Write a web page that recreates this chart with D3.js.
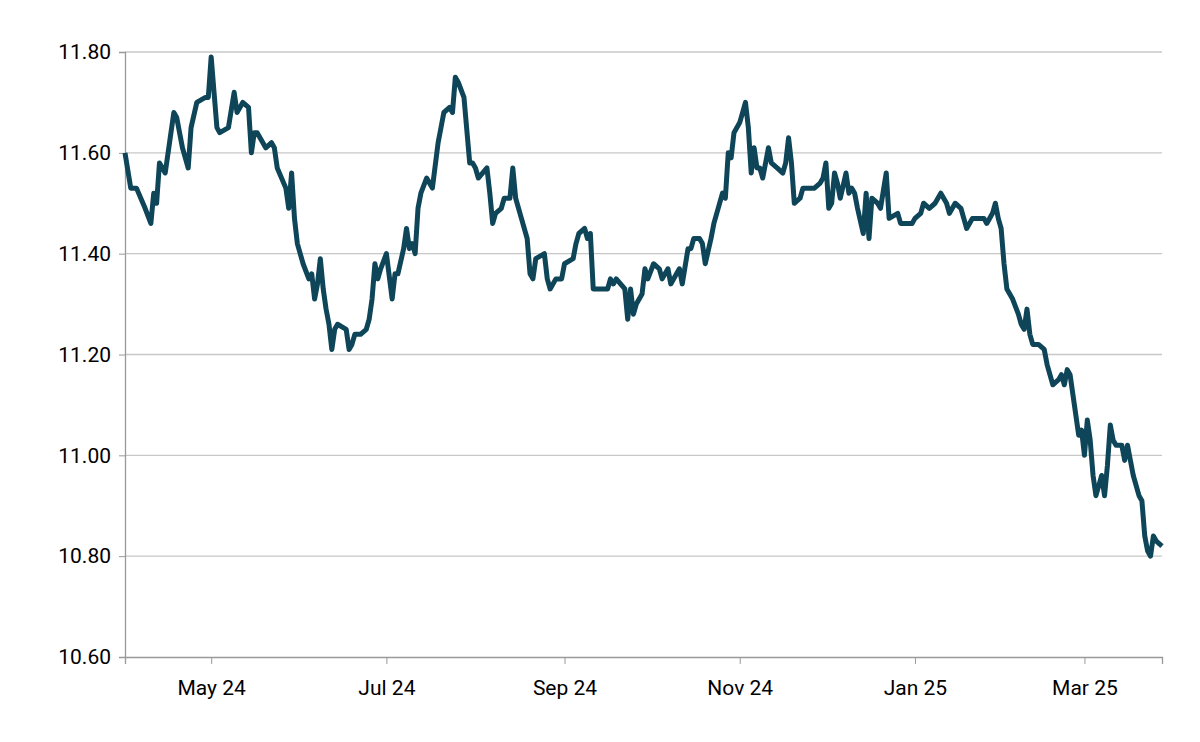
<!DOCTYPE html>
<meta charset="utf-8" />
<script src="https://d3js.org/d3.v7.min.js"></script>
<style>
  body { margin: 0; background: #fff; }
  text { font-family: Roboto, sans-serif; }
</style>
<div id="chart"></div>
<script>
  // days since 2024-04-01 and the value on that day
  const startDate = new Date(2024, 3, 1);
  const days = [0,2,4,7,9,10,11,12,14,16,17,18,19,20,22,23,25,28,29,30,31,32,33,36,38,39,41,43,44,45,46,49,51,52,53,56,57,58,59,60,62,64,65,66,67,68,69,70,71,72,73,74,77,78,79,80,82,84,85,86,87,88,89,91,93,94,95,97,98,99,100,101,102,103,105,106,107,109,110,111,113,114,115,116,118,120,121,122,123,126,127,128,129,131,132,134,135,136,138,140,141,142,143,146,147,148,150,152,153,156,157,158,160,161,162,163,166,168,169,170,171,174,175,176,177,178,180,181,182,184,186,187,189,190,192,193,194,196,197,198,200,201,202,204,205,206,208,209,210,211,212,214,216,217,218,219,220,221,222,224,225,227,229,230,231,232,233,235,236,239,240,242,243,244,245,246,247,248,249,251,252,253,254,255,257,258,259,260,262,263,265,266,269,270,272,274,275,277,278,280,282,284,286,287,289,291,292,293,294,295,297,299,300,302,303,304,305,306,307,309,311,312,313,314,315,316,318,320,321,323,325,326,327,328,329,330,332,333,334,335,336,337,338,339,340,341,342,343,344,345,347,348,349,350,351,353,354,355,356,357,358,359,361];
  const values = [11.60,11.53,11.53,11.49,11.46,11.52,11.50,11.58,11.56,11.64,11.68,11.67,11.64,11.61,11.57,11.65,11.70,11.71,11.71,11.79,11.72,11.65,11.64,11.65,11.72,11.68,11.70,11.69,11.60,11.64,11.64,11.61,11.62,11.61,11.57,11.53,11.49,11.56,11.47,11.42,11.38,11.35,11.36,11.31,11.34,11.39,11.33,11.29,11.26,11.21,11.25,11.26,11.25,11.21,11.22,11.24,11.24,11.25,11.27,11.31,11.38,11.35,11.37,11.40,11.31,11.36,11.36,11.41,11.45,11.41,11.42,11.40,11.49,11.52,11.55,11.54,11.53,11.62,11.65,11.68,11.69,11.68,11.75,11.74,11.71,11.58,11.58,11.57,11.55,11.57,11.52,11.46,11.48,11.49,11.51,11.51,11.57,11.51,11.47,11.43,11.36,11.35,11.39,11.40,11.35,11.33,11.35,11.35,11.38,11.39,11.42,11.44,11.45,11.43,11.44,11.33,11.33,11.33,11.35,11.34,11.35,11.33,11.27,11.33,11.28,11.30,11.32,11.37,11.35,11.38,11.37,11.35,11.37,11.34,11.36,11.37,11.34,11.41,11.41,11.43,11.43,11.42,11.38,11.43,11.46,11.48,11.52,11.51,11.60,11.59,11.64,11.66,11.70,11.65,11.56,11.61,11.57,11.57,11.55,11.61,11.58,11.57,11.56,11.58,11.63,11.58,11.50,11.51,11.53,11.53,11.53,11.54,11.55,11.58,11.49,11.50,11.56,11.54,11.51,11.56,11.52,11.53,11.52,11.49,11.44,11.52,11.43,11.51,11.50,11.49,11.56,11.47,11.48,11.46,11.46,11.46,11.47,11.48,11.50,11.49,11.50,11.52,11.50,11.48,11.50,11.49,11.47,11.45,11.46,11.47,11.47,11.47,11.46,11.48,11.50,11.47,11.45,11.38,11.33,11.31,11.28,11.26,11.25,11.29,11.24,11.22,11.22,11.21,11.18,11.14,11.15,11.16,11.14,11.17,11.16,11.12,11.04,11.05,11.00,11.07,11.03,10.96,10.92,10.94,10.96,10.92,10.98,11.06,11.03,11.02,11.02,10.99,11.02,10.99,10.96,10.92,10.91,10.84,10.81,10.80,10.84,10.83,10.82];
  const yTicks = [10.6, 10.8, 11.0, 11.2, 11.4, 11.6, 11.8];
  const xTicks = [new Date(2024, 4, 1), new Date(2024, 6, 1), new Date(2024, 8, 1),
                  new Date(2024, 10, 1), new Date(2025, 0, 1), new Date(2025, 2, 1)];

  const data = days.map((d, i) => ({ date: d3.timeDay.offset(startDate, d), value: values[i] }));

  const W = 1200, H = 742;
  const margin = { top: 52, right: 38, bottom: 85, left: 125 };
  const width = W - margin.left - margin.right,
    height = H - margin.top - margin.bottom;

  const svg = d3.select("#chart").append("svg")
    .attr("width", W).attr("height", H)
    .append("g")
    .attr("transform", `translate(${margin.left},${margin.top})`);

  const x = d3.scaleTime()
    .domain([startDate, d3.timeDay.offset(startDate, 361)])
    .range([0, width]);
  const y = d3.scaleLinear().domain([10.6, 11.8]).range([height, 0]);

  // gridlines
  svg.append("g")
    .selectAll("line")
    .data(yTicks.slice(1))
    .join("line")
    .attr("x1", 0).attr("x2", width)
    .attr("y1", d => y(d)).attr("y2", d => y(d))
    .attr("stroke", "#c8c8c8").attr("stroke-width", 1.3);

  // y axis
  const yAxis = svg.append("g")
    .call(d3.axisLeft(y).tickValues(yTicks).tickFormat(d3.format(".2f")).tickSize(6).tickPadding(8));
  yAxis.select(".domain").attr("stroke", "#999").attr("stroke-width", 1.3);
  yAxis.selectAll(".tick line").attr("stroke", "#999");
  yAxis.selectAll("text").style("font-size", "21px").attr("fill", "#000");

  // x axis
  const xAxis = svg.append("g")
    .attr("transform", `translate(0,${height})`)
    .call(d3.axisBottom(x).tickValues(xTicks).tickFormat(d3.timeFormat("%b %y")).tickSize(7).tickPadding(16));
  xAxis.select(".domain").attr("stroke", "#999").attr("stroke-width", 1.3);
  xAxis.selectAll(".tick line").attr("stroke", "#999");
  xAxis.selectAll("text").style("font-size", "21px").attr("fill", "#000");

  // line
  svg.append("path")
    .datum(data)
    .attr("fill", "none")
    .attr("stroke", "#0e4558")
    .attr("stroke-width", 5)
    .attr("stroke-linejoin", "round")
    .attr("d", d3.line().x(d => x(d.date)).y(d => y(d.value)));
</script>
